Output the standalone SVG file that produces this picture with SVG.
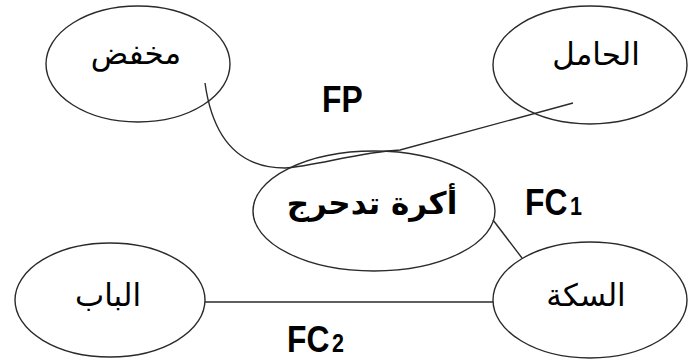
<svg xmlns="http://www.w3.org/2000/svg" width="697" height="360" viewBox="0 0 697 360">
<style>
.node ellipse{fill:none;stroke:#2a2a2a;stroke-width:1.4}
.ar{font-family:"DejaVu Sans",sans-serif;font-size:31px;fill:#000;text-anchor:middle}
.lbl{font-family:"Liberation Sans",Arial,sans-serif;font-weight:bold;font-size:37px;fill:#000}
.conn path,.conn line{fill:none;stroke:#2a2a2a;stroke-width:1.4}
</style>
<rect width="697" height="360" fill="#fff"/>
<g id="connectors" class="conn">
<path d="M205,83 C213,140 240,168 285,168 C315,166 360,152 400,150 L573,103"/>
<line x1="493" y1="220" x2="522" y2="258"/>
<line x1="205" y1="302" x2="493" y2="302"/>
</g>
<g id="n-mokhafed" class="node">
<ellipse cx="138" cy="64" rx="92" ry="58"/>
<text class="ar" x="136" y="64">مخفض</text>
</g>
<g id="n-hamel" class="node">
<ellipse cx="590" cy="65" rx="97" ry="59"/>
<text class="ar" x="596" y="65" font-size="29">الحامل</text>
</g>
<g id="n-okra" class="node">
<ellipse cx="374" cy="211" rx="121" ry="60"/>
<text class="ar" x="372" y="214" font-size="29" font-weight="bold">أكرة تدحرج</text>
</g>
<g id="n-bab" class="node">
<ellipse cx="110" cy="300" rx="95" ry="57"/>
<text class="ar" x="108" y="306" font-size="34">الباب</text>
</g>
<g id="n-sekka" class="node">
<ellipse cx="590" cy="300" rx="97" ry="58"/>
<text class="ar" x="586" y="306" font-size="31">السكة</text>
</g>
<g id="labels">
<text class="lbl" transform="translate(322,112) scale(0.86,1)">FP</text>
<text class="lbl" transform="translate(525,215) scale(0.86,1)">FC<tspan font-size="25" dx="3">1</tspan></text>
<text class="lbl" transform="translate(287,352) scale(0.86,1)">FC<tspan font-size="25" dx="3">2</tspan></text>
</g>
</svg>
